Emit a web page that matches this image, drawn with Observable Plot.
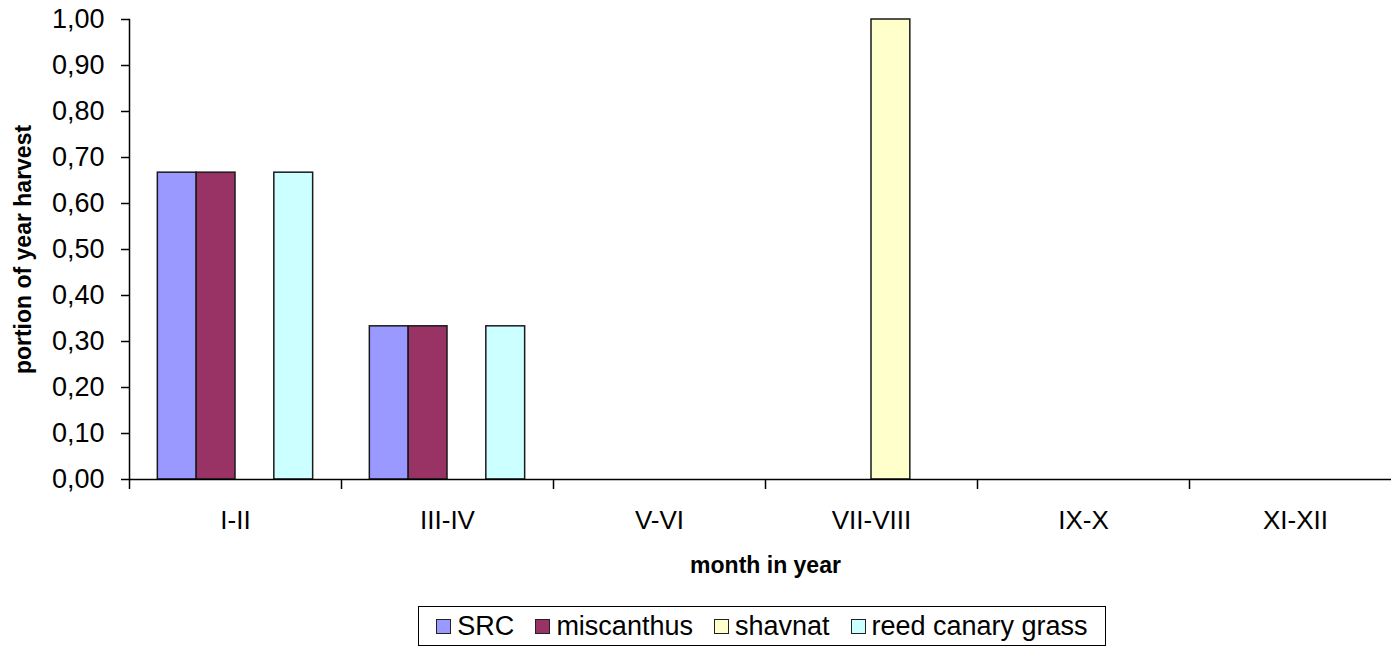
<!DOCTYPE html>
<html>
<head>
<meta charset="utf-8">
<script src="https://cdn.jsdelivr.net/npm/d3@7"></script>
<script src="https://cdn.jsdelivr.net/npm/@observablehq/plot@0.6"></script>
<style>
  html, body { margin: 0; padding: 0; background: #fff; overflow: hidden; }
  #wrap { position: relative; width: 1391px; height: 648px; overflow: hidden; }
  #chart svg { max-width: none !important; display: block; }
  #legend {
    position: absolute; left: 418px; top: 606px; width: 688px; height: 40px;
    box-sizing: border-box; border: 1.5px solid #000; background: #fff;
    display: flex; align-items: center; justify-content: center; gap: 21px;
    font-family: "Liberation Sans", Arial, sans-serif; font-size: 27px; color: #000;
  }
  .item { display: flex; align-items: center; gap: 6px; white-space: nowrap; }
  .sw { width: 15px; height: 15px; box-sizing: border-box; border: 1.5px solid #222; }
</style>
</head>
<body>
<div id="wrap">
  <div id="chart"></div>
  <div id="legend"></div>
</div>
<script>
// ---- data ----
const categories = ["I-II", "III-IV", "V-VI", "VII-VIII", "IX-X", "XI-XII"];
const seriesNames = ["SRC", "miscanthus", "shavnat", "reed canary grass"];
const seriesColors = ["#9999FF", "#993366", "#FFFFCC", "#CCFFFF"];
const SRC = [0.667, 0.333, 0, 0, 0, 0];
const miscanthus = [0.667, 0.333, 0, 0, 0, 0];
const shavnat = [0, 0, 0, 1.00, 0, 0];
const reedCanaryGrass = [0.667, 0.333, 0, 0, 0, 0];
const yTicks = [0, 0.1, 0.2, 0.3, 0.4, 0.5, 0.6, 0.7, 0.8, 0.9, 1.0];
const yTitle = "portion of year harvest";
const xTitle = "month in year";

const seriesValues = [SRC, miscanthus, shavnat, reedCanaryGrass];
const rows = [];
categories.forEach((m, i) => {
  seriesNames.forEach((s, j) => {
    rows.push({month: m, series: s, value: seriesValues[j][i]});
  });
});

const fmt = d3.formatLocale({decimal: ",", thousands: ".", grouping: [3], currency: ["", ""]}).format(".2f");
const FONT = '"Liberation Sans", Arial, sans-serif';

const chart = Plot.plot({
  width: 1401,
  height: 606,
  marginLeft: 129,
  marginRight: 0,
  marginTop: 19,
  marginBottom: 127,
  style: {fontFamily: FONT, fontSize: "26px", color: "#000", background: "#fff"},
  fx: {domain: categories, padding: 0, label: null},
  x: {domain: seriesNames, paddingInner: 0, paddingOuter: 0.73, axis: null, round: false},
  y: {domain: [0, 1]},
  color: {domain: seriesNames, range: seriesColors},
  marks: [
    Plot.barY(rows, {fx: "month", x: "series", y: "value", fill: "series", stroke: "#1a1a1a", strokeWidth: 1.5}),
    Plot.ruleY([0], {stroke: "#000", strokeWidth: 1.5}),
    Plot.frame({anchor: "left", facetAnchor: "left", stroke: "#000", strokeWidth: 1.5}),
    Plot.axisY({ticks: yTicks, tickFormat: fmt, tickSize: 8, tickPadding: 17, label: null, strokeWidth: 1.5, fontSize: 27}),
    Plot.axisY({ticks: [], tickSize: 0, label: yTitle, labelAnchor: "center", labelArrow: "none", labelOffset: 115, fontSize: 23, fontWeight: "bold"}),
    Plot.axisFx({anchor: "bottom", tickSize: 0, tickPadding: 31, label: null, fontSize: 26}),
    Plot.axisFx({anchor: "bottom", ticks: [], tickSize: 0, label: xTitle, labelAnchor: "center", labelOffset: 93, fontSize: 23, fontWeight: "bold"}),
    Plot.axisFx({anchor: "bottom", tickSize: 10, tickFormat: () => "", label: null, dx: -106, strokeWidth: 1.5})
  ]
});
document.getElementById("chart").appendChild(chart);

const legend = document.getElementById("legend");
seriesNames.forEach((s, j) => {
  const it = document.createElement("div");
  it.className = "item";
  const sw = document.createElement("div");
  sw.className = "sw";
  sw.style.background = seriesColors[j];
  const t = document.createElement("span");
  t.textContent = s;
  it.appendChild(sw);
  it.appendChild(t);
  legend.appendChild(it);
});
</script>
</body>
</html>
